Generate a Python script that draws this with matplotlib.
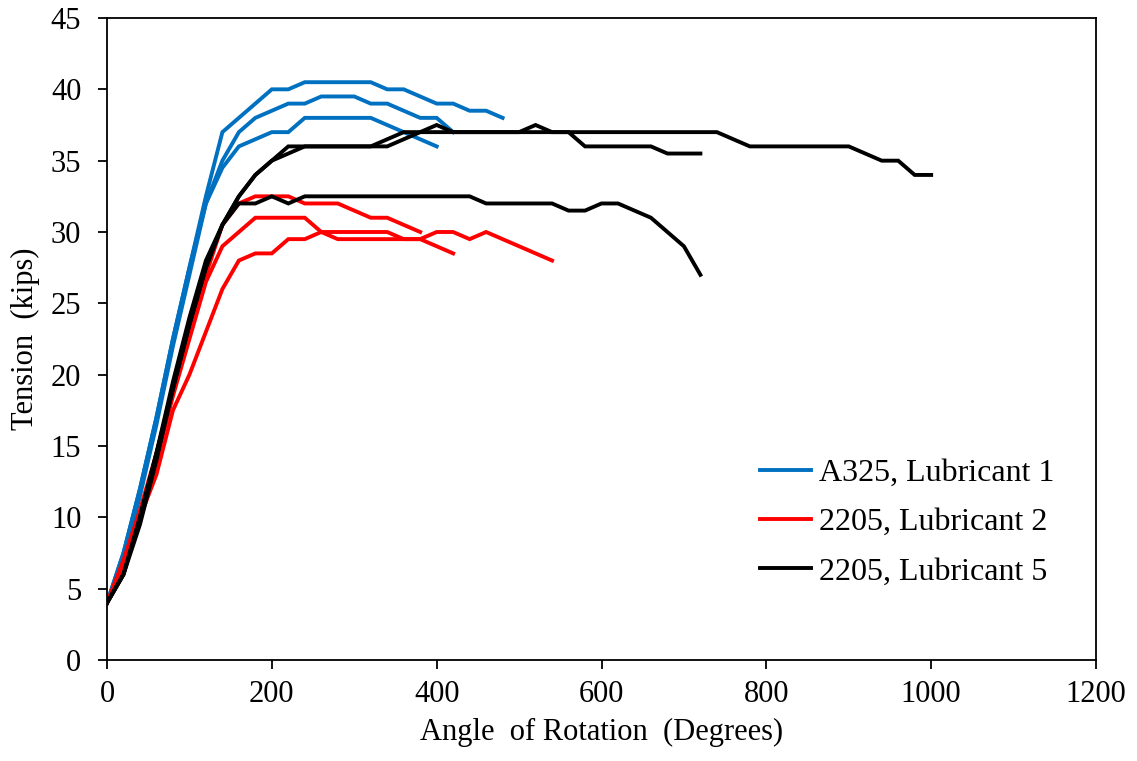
import matplotlib
matplotlib.use("Agg")
import matplotlib.pyplot as plt

plt.rcParams['font.family'] = ['Liberation Serif', 'DejaVu Serif']

# Rotation angle (degrees) and bolt tension (kips) for each test
a325_l1_angle = list(range(0, 481, 20))
a325_l1_t1 = [4, 7.5, 12, 17, 22.5, 27.5, 32.5, 37, 38, 39, 40, 40, 40.5, 40.5, 40.5,
              40.5, 40.5, 40, 40, 39.5, 39, 39, 38.5, 38.5, 38]
a325_l1_angle2 = list(range(0, 421, 20))
a325_l1_t2 = [4, 7.5, 12, 17, 22.5, 27.5, 32, 35, 37, 38, 38.5, 39, 39, 39.5, 39.5,
              39.5, 39, 39, 38.5, 38, 38, 37]
a325_l1_angle3 = list(range(0, 401, 20))
a325_l1_t3 = [4, 7, 11.5, 16.5, 22, 27, 32, 34.5, 36, 36.5, 37, 37, 38, 38, 38, 38,
              38, 37.5, 37, 36.5, 36]

d2205_l2_angle1 = list(range(0, 381, 20))
d2205_l2_t1 = [4, 7, 10.5, 14.5, 19, 23, 27, 30.5, 32, 32.5, 32.5, 32.5, 32, 32, 32,
               31.5, 31, 31, 30.5, 30]
d2205_l2_angle2 = list(range(0, 421, 20))
d2205_l2_t2 = [4, 6.5, 10, 14, 18.5, 22.5, 26.5, 29, 30, 31, 31, 31, 31, 30, 29.5,
               29.5, 29.5, 29.5, 29.5, 29.5, 29, 28.5]
d2205_l2_angle3 = list(range(0, 541, 20))
d2205_l2_t3 = [4, 6.5, 10, 13, 17.5, 20, 23, 26, 28, 28.5, 28.5, 29.5, 29.5, 30, 30,
               30, 30, 30, 29.5, 29.5, 30, 30, 29.5, 30, 29.5, 29, 28.5, 28]

d2205_l5_angle1 = list(range(0, 1001, 20))
d2205_l5_t1 = [4, 6, 10, 14.5, 19.5, 24, 28, 30.5, 32.5, 34, 35, 36, 36, 36, 36, 36,
               36, 36.5, 37, 37, 37, 37, 37, 37, 37, 37, 37.5, 37, 37, 37, 37, 37,
               37, 37, 37, 37, 37, 37, 36.5, 36, 36, 36, 36, 36, 36, 36, 35.5, 35,
               35, 34, 34]
d2205_l5_angle2 = list(range(0, 721, 20))
d2205_l5_t2 = [4, 6, 9.5, 14, 19, 23.5, 27.5, 30.5, 32.5, 34, 35, 35.5, 36, 36, 36,
               36, 36, 36, 36.5, 37, 37.5, 37, 37, 37, 37, 37, 37, 37, 37, 36, 36,
               36, 36, 36, 35.5, 35.5, 35.5]
d2205_l5_angle3 = list(range(0, 721, 20))
d2205_l5_t3 = [4, 6, 10, 14.5, 19, 23.5, 27.5, 30.5, 32, 32, 32.5, 32, 32.5, 32.5,
               32.5, 32.5, 32.5, 32.5, 32.5, 32.5, 32.5, 32.5, 32.5, 32, 32, 32, 32,
               32, 31.5, 31.5, 32, 32, 31.5, 31, 30, 29, 27]

series_labels = ["A325, Lubricant 1", "2205, Lubricant 2", "2205, Lubricant 5"]
series_colors = ["#0070C0", "#FF0000", "#000000"]

groups = [
    [(a325_l1_angle, a325_l1_t1), (a325_l1_angle2, a325_l1_t2), (a325_l1_angle3, a325_l1_t3)],
    [(d2205_l2_angle1, d2205_l2_t1), (d2205_l2_angle2, d2205_l2_t2), (d2205_l2_angle3, d2205_l2_t3)],
    [(d2205_l5_angle1, d2205_l5_t1), (d2205_l5_angle2, d2205_l5_t2), (d2205_l5_angle3, d2205_l5_t3)],
]

fig = plt.figure(figsize=(11.37, 7.61), dpi=100)
ax = fig.add_axes([107 / 1137, 1 - 660 / 761, (1096 - 107) / 1137, (660 - 18) / 761])

lw = 2.8
for label, color, tests in zip(series_labels, series_colors, groups):
    for i, (x, y) in enumerate(tests):
        ax.plot(x, y, color=color, lw=lw, solid_joinstyle='miter',
                label=label if i == 0 else None)

ax.set_xlim(0, 1200)
ax.set_ylim(0, 45)
ax.set_xticks(range(0, 1201, 200))
ax.set_yticks(range(0, 46, 5))
fs = 22
ax.tick_params(direction='out', length=6.5, width=1.3, labelsize=fs, pad=8)
ax.tick_params(axis='y', pad=12)
for s in ax.spines.values():
    s.set_linewidth(1.3)

ax.set_xlabel("Angle  of Rotation  (Degrees)", fontsize=fs, labelpad=6)
ax.set_ylabel("Tension  (kips)", fontsize=fs, labelpad=8)

leg = ax.legend(loc='upper left', bbox_to_anchor=(731 / 1137, 1 - 430 / 761),
                bbox_transform=fig.transFigure, frameon=False, fontsize=23,
                handlelength=1.6, handletextpad=0.25, labelspacing=0.62)

fig.savefig("out.png", dpi=100)
